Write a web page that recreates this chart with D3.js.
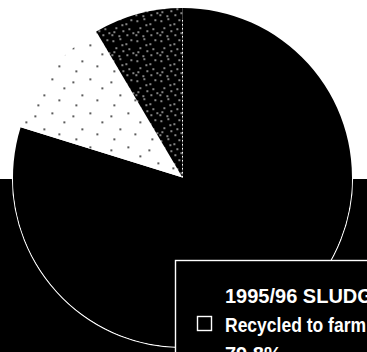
<!DOCTYPE html>
<html>
<head>
<meta charset="utf-8">
<script src="https://cdn.jsdelivr.net/npm/d3@7/dist/d3.min.js"></script>
<style>
html,body{margin:0;padding:0;background:#fff;overflow:hidden;}
svg{display:block;}
</style>
</head>
<body>
<svg id="chart" width="367" height="352"></svg>
<script>
// ---- data ----
const categories = ["Recycled to farm", "Other", "Other disposal"];
const values = [79.8, 11.7, 8.5];
const legendTitle = "1995/96 SLUDGE";
const legendLabels = ["Recycled to farm"];
const legendValues = ["79.8%"];

// ---- layout ----
const W = 367, H = 352;
const cx = 182.5, cy = 177.5, R = 169.5;
const svg = d3.select("#chart");

// textures (fixed dot tiles)
const defs = svg.append("defs");
const darkDots = [[2,3],[9,1],[15,6],[20,2],[5,10],[12,13],[18,11],[1,17],[8,18],[16,17],[22,15],[11,7],[3,14]];
const pDark = defs.append("pattern").attr("id","dark").attr("patternUnits","userSpaceOnUse")
  .attr("width",24).attr("height",20);
pDark.append("rect").attr("width",24).attr("height",20).attr("fill","#000");
pDark.selectAll("rect.d").data(darkDots).join("rect").attr("class","d")
  .attr("x",d=>d[0]).attr("y",d=>d[1]).attr("width",1.6).attr("height",1.3).attr("fill","#fff");
const lightDots = [[4,6],[21,3],[13,19],[28,24],[7,29],[33,12]];
const pLight = defs.append("pattern").attr("id","light").attr("patternUnits","userSpaceOnUse")
  .attr("width",38).attr("height",34);
pLight.append("rect").attr("width",38).attr("height",34).attr("fill","#fff");
pLight.selectAll("rect.d").data(lightDots).join("rect").attr("class","d")
  .attr("x",d=>d[0]).attr("y",d=>d[1]).attr("width",1.6).attr("height",1.6).attr("fill","#000");

// background: white top, black lower band
svg.append("rect").attr("x",0).attr("y",0).attr("width",W).attr("height",H).attr("fill","#fff");
svg.append("rect").attr("x",0).attr("y",179).attr("width",W).attr("height",H-179).attr("fill","#000");

const fills = ["#000","url(#light)","url(#dark)"];
const pie = d3.pie().sort(null).value(d=>d)(values);
const arc = d3.arc().innerRadius(0).outerRadius(R);
const g = svg.append("g").attr("transform",`translate(${cx},${cy})`);
g.append("circle").attr("r",R+0.5).attr("fill","none").attr("stroke","#fff").attr("stroke-width",1.3);
g.selectAll("path.slice").data(pie).join("path").attr("class","slice")
  .attr("d",arc).attr("fill",(d,i)=>fills[i]);
// dotted edge of the dark slice along its boundary with the big slice
g.append("line").attr("x1",0).attr("y1",0).attr("x2",0).attr("y2",-R+10)
  .attr("stroke","#fff").attr("stroke-width",1).attr("stroke-dasharray","1.5,2.5");

// legend box
const lg = svg.append("g");
lg.append("rect").attr("x",175.5).attr("y",260.5).attr("width",260).attr("height",150)
  .attr("fill","#000").attr("stroke","#fff").attr("stroke-width",1.4);
const font = "'Liberation Sans',Arial,sans-serif";
lg.append("text").attr("x",225).attr("y",303).attr("fill","#fff")
  .style("font-family",font).style("font-weight","bold").style("font-size","20px")
  .text(legendTitle);
legendLabels.forEach((lab,i)=>{
  const y = 332 + i*58;
  lg.append("rect").attr("x",197.5).attr("y",y-15.5).attr("width",14).attr("height",14)
    .attr("fill","#000").attr("stroke","#fff").attr("stroke-width",1.4);
  lg.append("text").attr("x",225).attr("y",y).attr("fill","#fff")
    .attr("textLength",141).attr("lengthAdjust","spacingAndGlyphs")
    .style("font-family",font).style("font-weight","bold").style("font-size","20px").text(lab);
  lg.append("text").attr("x",225).attr("y",y+29).attr("fill","#fff")
    .style("font-family",font).style("font-weight","bold").style("font-size","20px").text(legendValues[i]);
});
</script>
</body>
</html>
